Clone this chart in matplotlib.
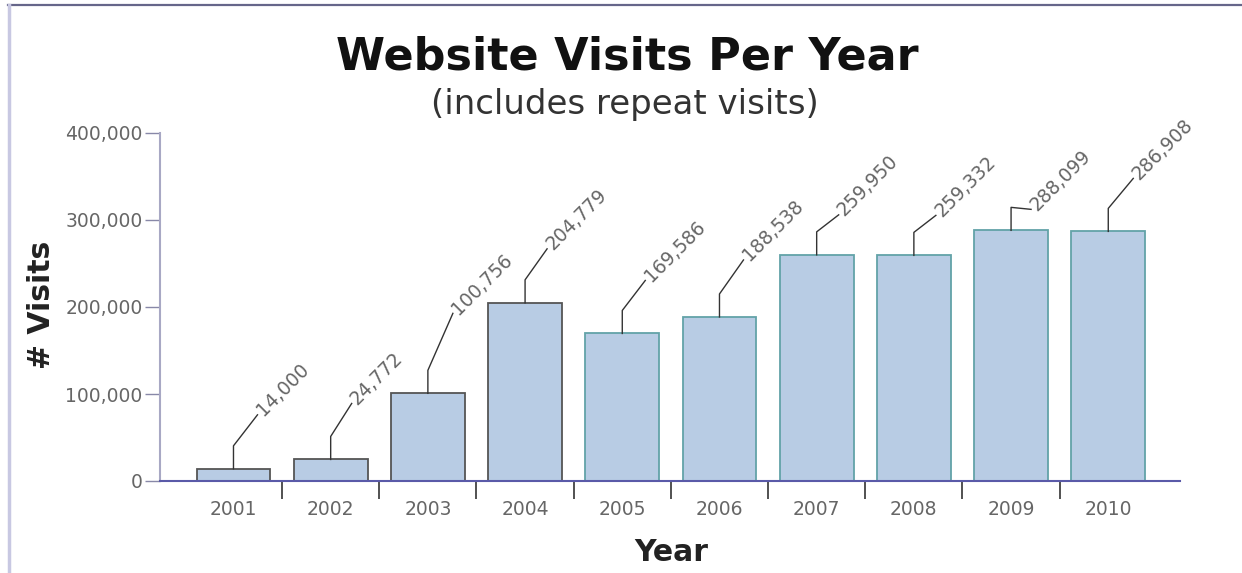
import matplotlib
matplotlib.use("Agg")
import matplotlib.pyplot as plt
from matplotlib.lines import Line2D
from matplotlib.transforms import IdentityTransform
from matplotlib.ticker import FuncFormatter
import numpy as np

# ---- data ----
years = ["2001", "2002", "2003", "2004", "2005", "2006", "2007", "2008", "2009", "2010"]
visits = [14000, 24772, 100756, 204779, 169586, 188538, 259950, 259332, 288099, 286908]
y_ticks = [0, 100000, 200000, 300000, 400000]

title = "Website Visits Per Year"
subtitle = "(includes repeat visits)"
x_label = "Year"
y_label = "# Visits"

# ---- style / layout ----
fill_color = "#b8cce4"
edge_colors = ["#555555"] * 4 + ["#62a2a8"] * 6
# label leader end offsets in pixels (dx, dy) relative to bar top
label_offsets = [(24, 54), (21, 56), (25, 80), (22, 54), (23, 53),
                 (24, 57), (22, 40), (22, 40), (20, 21), (25, 53)]
elbow = 23

W, H = 1242, 573
dpi = 100
fig = plt.figure(figsize=(W / dpi, H / dpi), dpi=dpi)
plt.rcParams['font.family'] = ['DejaVu Sans']

ax = fig.add_axes([160 / W, 1 - 481 / H, (1180 - 160) / W, (481 - 133) / H])
x = np.arange(len(years))
ax.bar(x, visits, width=0.76, color=fill_color, edgecolor=edge_colors, linewidth=1.3, zorder=2)

ax.set_xlim(-0.756, 9.738)
ax.set_ylim(0, 400000)

for s in ["top", "right"]:
    ax.spines[s].set_visible(False)
ax.spines["left"].set_color("#a8a8c4")
ax.spines["left"].set_linewidth(1.5)
ax.spines["bottom"].set_color("#5a5aa8")
ax.spines["bottom"].set_linewidth(1.5)
ax.spines["bottom"].set_zorder(3)

ax.set_yticks(y_ticks)
ax.yaxis.set_major_formatter(FuncFormatter(lambda v, p: f"{int(v):,}"))
ax.tick_params(axis="y", length=11, width=1.0, color="#8888a8", pad=1.5,
               labelsize=13.5, labelcolor="#666666")

ax.set_xticks(x)
ax.set_xticklabels(years)
ax.set_xticks(x[:-1] + 0.5, minor=True)
ax.tick_params(axis="x", which="major", length=0, pad=14, labelsize=13.5, labelcolor="#666666")
ax.tick_params(axis="x", which="minor", length=13, width=1.2, color="#333333")

# titles
fig.text(627.5 / W, 1 - 70 / H, title, ha="center", va="baseline",
         fontsize=32, fontweight="bold", color="#111111")
fig.text(625 / W, 1 - 114 / H, subtitle, ha="center", va="baseline",
         fontsize=24.5, color="#333333")
fig.text(671 / W, 1 - 561 / H, x_label, ha="center", va="baseline",
         fontsize=21.5, fontweight="bold", color="#222222")
fig.text(50 / W, 1 - 305 / H, y_label, ha="center", va="baseline",
         rotation=90, rotation_mode="anchor",
         fontsize=21.5, fontweight="bold", color="#222222")

# value labels with leader lines (in display pixels)
fig.canvas.draw()
ident = IdentityTransform()
for i, v in enumerate(visits):
    px, py = ax.transData.transform((x[i], v))
    dx, dy = label_offsets[i]
    xs = [px, px, px + dx]
    ys = [py, py + elbow, py + dy]
    fig.add_artist(Line2D(xs, ys, transform=ident, color="#333333", linewidth=1.0))
    gap = 3
    fig.text(px + dx + gap * 0.707, py + dy + gap * 0.707, f"{v:,}", transform=ident,
             rotation=45, rotation_mode="anchor", ha="left", va="center",
             fontsize=13.5, color="#666666")

# outer frame lines
fig.add_artist(Line2D([8 / W, 1], [1 - 5 / H, 1 - 5 / H], transform=fig.transFigure,
                      color="#66668a", linewidth=1.6))
fig.add_artist(Line2D([9 / W, 9 / W], [0, 1 - 5 / H], transform=fig.transFigure,
                      color="#c8c8e2", linewidth=2.5))

fig.savefig("out.png", dpi=dpi)
